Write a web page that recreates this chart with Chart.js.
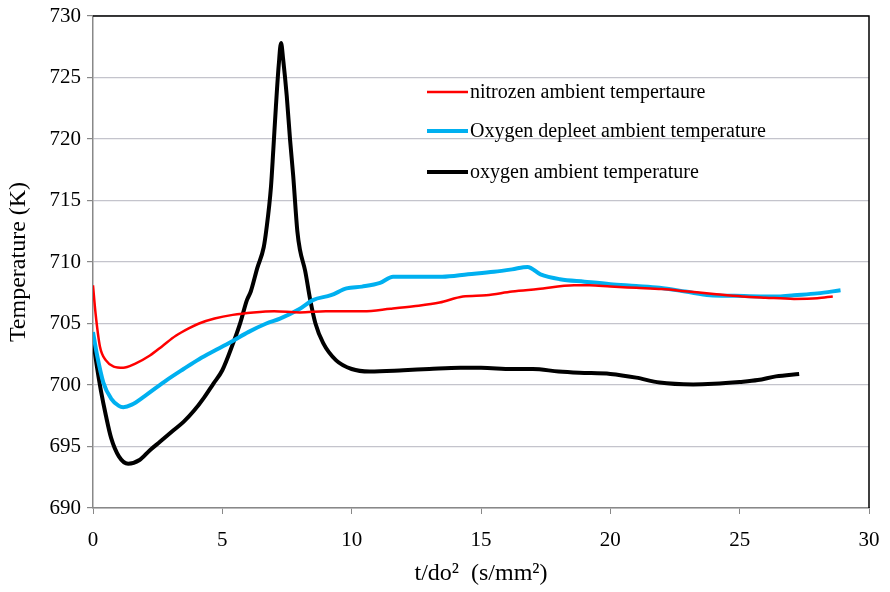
<!DOCTYPE html>
<html>
<head>
<meta charset="utf-8">
<script src="https://cdn.jsdelivr.net/npm/chart.js@4.4.0/dist/chart.umd.min.js"></script>
<style>
    html, body { margin: 0; padding: 0; background: #fff; }
    #wrap { width: 890px; height: 592px; }
</style>
</head>
<body>
<div id="wrap"><canvas id="chart" width="890" height="592"></canvas></div>
<script>
//数据 - 氮气环境温度
var nitrogenX = [0, 0.1, 0.27, 0.5, 0.8, 1.17, 1.6, 2.2, 2.7, 3.2, 3.7, 4.1, 4.7, 5.4, 6.2, 7.0, 8.0, 9.0, 10.45, 11.5, 12.4, 13.4, 14.3, 15.2, 16.2, 17.2, 18.6, 19.2, 20, 21, 22, 23, 24, 25.1, 26, 27.1, 28, 28.6];
var nitrogenY = [708.1, 705.8, 703.1, 702.0, 701.5, 701.4, 701.7, 702.4, 703.2, 704.0, 704.6, 705.0, 705.4, 705.7, 705.9, 706.0, 705.9, 706.0, 706.0, 706.2, 706.4, 706.7, 707.2, 707.3, 707.6, 707.8, 708.1, 708.1, 708.0, 707.9, 707.8, 707.6, 707.4, 707.2, 707.1, 707.0, 707.05, 707.2];

//贫氧环境温度
var depletedX = [0, 0.15, 0.4, 0.7, 1.0, 1.17, 1.5, 2.0, 2.85, 3.5, 4.1, 4.8, 5.42, 6.0, 6.7, 7.23, 8.0, 8.5, 9.2, 9.8, 10.4, 11.1, 11.6, 12.5, 13.5, 14.5, 15.5, 16.2, 16.8, 17.3, 18.05, 19, 20, 21, 21.9, 22.9, 23.85, 24.8, 25.8, 26.5, 27.1, 28, 28.9];
var depletedY = [704.3, 702.5, 700.2, 698.9, 698.3, 698.2, 698.4, 699.1, 700.4, 701.3, 702.1, 702.9, 703.6, 704.3, 705.0, 705.4, 706.2, 706.9, 707.3, 707.85, 708.0, 708.3, 708.8, 708.8, 708.8, 709.0, 709.2, 709.4, 709.6, 709.0, 708.6, 708.4, 708.2, 708.05, 707.9, 707.6, 707.3, 707.25, 707.2, 707.2, 707.3, 707.45, 707.7];

//氧气环境温度
var oxygenX = [0, 0.15, 0.3, 0.5, 0.7, 1.0, 1.36, 1.8, 2.2, 2.6, 3.1, 3.5, 3.9, 4.3, 4.65, 5.0, 5.4, 5.7, 5.95, 6.1, 6.35, 6.6, 6.7, 6.88, 6.97, 7.07, 7.18, 7.27, 7.35, 7.49, 7.62, 7.74, 7.9, 8.0, 8.2, 8.4, 8.6, 8.9, 9.4, 10.0, 10.7, 12, 13, 14.2, 15, 16.2, 17, 18, 18.8, 20, 21, 21.9, 23.2, 24, 25, 25.7, 26.4, 27.3];
var oxygenY = [703.8, 701.5, 699.6, 697.5, 695.7, 694.2, 693.6, 693.9, 694.7, 695.4, 696.3, 697.0, 697.9, 699.0, 700.1, 701.2, 703.3, 705.1, 706.9, 707.6, 709.5, 711.2, 712.6, 716.1, 719.1, 722.6, 726.0, 727.8, 726.5, 723.5, 719.9, 717.0, 712.5, 711.0, 709.3, 706.9, 705.0, 703.4, 702.0, 701.3, 701.1, 701.2, 701.3, 701.4, 701.4, 701.3, 701.3, 701.1, 701.0, 700.9, 700.6, 700.2, 700.05, 700.1, 700.25, 700.4, 700.7, 700.9];

var seriesLabels = ['nitrozen ambient tempertaure', 'Oxygen depleet ambient temperature', 'oxygen ambient temperature'];
var xTitle = 't/do\u00b2  (s/mm\u00b2)';
var yTitle = 'Temperature (K)';

var serif = "'Liberation Serif', 'Times New Roman', serif";

function toPoints(xs, ys) {
    return xs.map(function (x, i) { return { x: x, y: ys[i] }; });
}

//外框 + 图例
var framePlugin = {
    id: 'frame',
    afterDatasetsDraw: function (chart) {
        var ctx = chart.ctx, a = chart.chartArea;
        ctx.save();
        ctx.strokeStyle = '#000';
        ctx.lineWidth = 1.5;
        ctx.beginPath();
        ctx.moveTo(a.left, a.top);
        ctx.lineTo(a.right, a.top);
        ctx.lineTo(a.right, a.bottom);
        ctx.stroke();

        //图例
        var rows = [92, 131, 172];
        ctx.font = '20px ' + serif;
        ctx.textBaseline = 'middle';
        ctx.fillStyle = '#000';
        chart.data.datasets.forEach(function (ds, i) {
            ctx.strokeStyle = ds.borderColor;
            ctx.lineWidth = ds.borderWidth;
            ctx.beginPath();
            ctx.moveTo(427, rows[i]);
            ctx.lineTo(468, rows[i]);
            ctx.stroke();
            ctx.fillText(ds.label, 470, rows[i] + 1);
        });
        ctx.restore();
    }
};

new Chart(document.getElementById('chart').getContext('2d'), {
    type: 'line',
    data: {
        datasets: [
            {
                label: seriesLabels[0],
                data: toPoints(nitrogenX, nitrogenY),
                borderColor: '#ff0000',
                borderWidth: 2.5,
                pointRadius: 0,
                fill: false,
                cubicInterpolationMode: 'monotone'
            },
            {
                label: seriesLabels[1],
                data: toPoints(depletedX, depletedY),
                borderColor: '#00b0f0',
                borderWidth: 4,
                pointRadius: 0,
                fill: false,
                cubicInterpolationMode: 'monotone'
            },
            {
                label: seriesLabels[2],
                data: toPoints(oxygenX, oxygenY),
                borderColor: '#000000',
                borderWidth: 4,
                pointRadius: 0,
                fill: false,
                cubicInterpolationMode: 'monotone'
            }
        ]
    },
    options: {
        responsive: false,
        animation: false,
        layout: { padding: { top: 16, right: 21, left: 0, bottom: 0 } },
        plugins: {
            legend: { display: false },
            tooltip: { enabled: false }
        },
        scales: {
            x: {
                type: 'linear',
                min: 0,
                max: 30,
                ticks: { stepSize: 5, color: '#000', font: { family: serif, size: 21 }, padding: 14 },
                grid: { display: true, drawOnChartArea: false, color: '#888', tickLength: 6 },
                border: { color: '#888', width: 1.5 },
                title: { display: true, text: xTitle, color: '#000', font: { family: serif, size: 24 }, padding: { top: 13 } },
                afterFit: function (s) { s.height = 84; s.paddingLeft = 0; s.paddingRight = 0; }
            },
            y: {
                min: 690,
                max: 730,
                ticks: { stepSize: 5, color: '#000', font: { family: serif, size: 21 }, padding: 6 },
                grid: { color: '#c4c4cc', lineWidth: 1.2, tickLength: 6, tickColor: '#888' },
                border: { color: '#888', width: 1.5 },
                title: { display: true, text: yTitle, color: '#000', font: { family: serif, size: 24 }, padding: { bottom: 0 } },
                afterFit: function (s) { s.width = 93; s.paddingTop = 0; s.paddingBottom = 0; }
            }
        }
    },
    plugins: [framePlugin]
});
</script>
</body>
</html>
